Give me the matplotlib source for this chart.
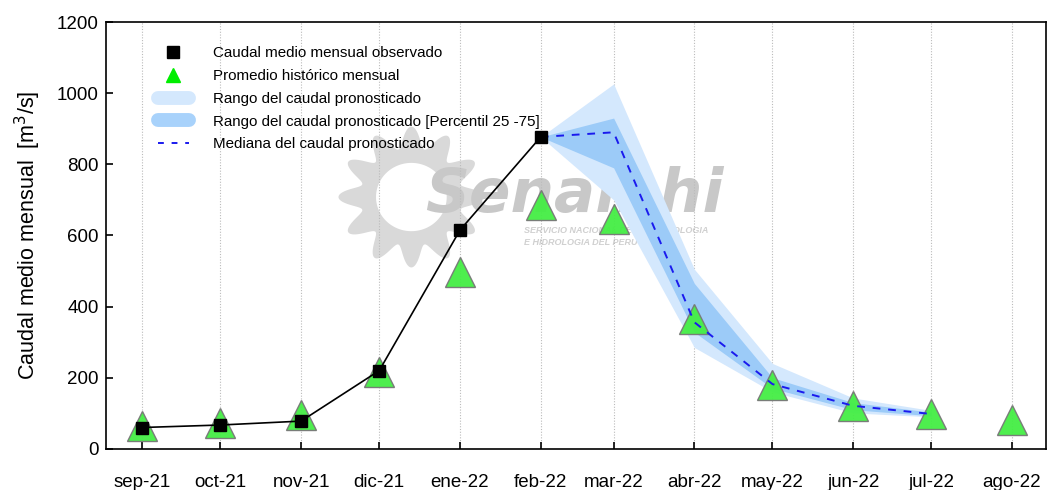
import numpy as np
import matplotlib
matplotlib.use('Agg')
import matplotlib.pyplot as plt
import matplotlib.dates as mdates
from matplotlib.patches import Polygon
from matplotlib.lines import Line2D
from datetime import datetime

plt.rcParams['font.family'] = ['Liberation Sans', 'DejaVu Sans']

# months shown on the axis
months = ['2021-09', '2021-10', '2021-11', '2021-12', '2022-01', '2022-02',
          '2022-03', '2022-04', '2022-05', '2022-06', '2022-07', '2022-08']
month_labels = ['sep-21', 'oct-21', 'nov-21', 'dic-21', 'ene-22', 'feb-22',
                'mar-22', 'abr-22', 'may-22', 'jun-22', 'jul-22', 'ago-22']

# observed monthly mean flow (sep-21 .. feb-22)
obs = [60, 67, 78, 220, 615, 877]
# historical monthly mean (sep .. ago)
hist = [65, 72, 95, 215, 497, 685, 645, 365, 180, 120, 97, 80]
# forecast (feb-22 .. jul-22)
fc_min = [877, 700, 285, 160, 101, 90]
fc_p25 = [877, 790, 328, 170, 110, 93]
fc_med = [877, 890, 356, 182, 121, 98]
fc_p75 = [877, 930, 465, 200, 130, 103]
fc_max = [877, 1026, 505, 240, 143, 108]

dates = [datetime.strptime(m + '-01', '%Y-%m-%d') for m in months]
x = mdates.date2num(dates)
x_obs = x[:len(obs)]
x_fc = x[5:5 + len(fc_med)]

fig = plt.figure(figsize=(10.48, 4.9), dpi=100)
ax = fig.add_axes([0.101, 0.084, 0.897, 0.871])

# watermark (Senamhi logo, approximate)
th = np.linspace(0, 2 * np.pi, 400)
rr = 0.14 + 0.025 * np.cos(12 * th)
cx, cy = 0.325, 0.59
sun = np.column_stack([cx + rr * np.cos(th) * 0.47, cy + rr * np.sin(th)])
ax.add_patch(Polygon(sun, closed=True, transform=ax.transAxes,
                     facecolor='#d9d9d9', edgecolor='none', zorder=0.5))
rr2 = 0.08
hole = np.column_stack([cx + rr2 * np.cos(th) * 0.47, cy + rr2 * np.sin(th)])
ax.add_patch(Polygon(hole, closed=True, transform=ax.transAxes,
                     facecolor='white', edgecolor='none', zorder=0.6))
ax.text(0.34, 0.555, 'Senamhi', transform=ax.transAxes, fontsize=44,
        fontweight='bold', style='italic', color='#c8c8c8', zorder=0.7,
        family='DejaVu Sans')
ax.text(0.445, 0.505, 'SERVICIO NACIONAL DE METEOROLOGIA', transform=ax.transAxes,
        fontsize=6.5, fontweight='bold', style='italic', color='#d0d0d0', zorder=0.7)
ax.text(0.445, 0.478, 'E HIDROLOGIA DEL PERU', transform=ax.transAxes,
        fontsize=6.5, fontweight='bold', style='italic', color='#d0d0d0', zorder=0.7)

# vertical grid
for xi in x:
    ax.axvline(xi, color='#bbbbbb', linestyle=(0, (1, 1.5)), linewidth=0.8, zorder=1)

light = '#d4e8fd'
dark = '#9ccbf8'
ax.fill_between(x_fc, fc_min, fc_max, color=light, linewidth=0, zorder=2)
ax.fill_between(x_fc, fc_p25, fc_p75, color=dark, linewidth=0, zorder=3)

ax.plot(x, hist, linestyle='none', marker='^', markersize=21,
        markerfacecolor='#44ee44', markeredgecolor='#777777', markeredgewidth=1,
        alpha=0.95, zorder=4)
ax.plot(x_fc, fc_med, color='#1a1aee', linestyle=(0, (4, 4)), linewidth=1.4, zorder=5)
ax.plot(x_obs, obs, color='black', linewidth=1.2, marker='s', markersize=9,
        markerfacecolor='black', markeredgecolor='black', zorder=6)

ax.set_ylim(0, 1200)
ax.set_yticks(np.arange(0, 1201, 200))
ax.set_xlim(mdates.date2num(datetime(2021, 8, 18)), mdates.date2num(datetime(2022, 8, 14)))
ax.set_xticks(x)
ax.set_xticklabels(month_labels)
ax.tick_params(axis='both', direction='in', labelsize=13.5, length=5, width=1.2)
ax.tick_params(axis='x', pad=18)
ax.tick_params(axis='y', pad=5)
for s in ax.spines.values():
    s.set_linewidth(1.2)
ax.set_ylabel('Caudal medio mensual  [m$^3$/s]', fontsize=15.5, labelpad=10)

# legend
h_obs = Line2D([], [], linestyle='none', marker='s', markersize=8, color='black')
h_hist = Line2D([], [], linestyle='none', marker='^', markersize=10,
                markerfacecolor='#00ee00', markeredgecolor='#00ee00')
h_light = Line2D([], [], color=light, linewidth=10, solid_capstyle='round')
h_dark = Line2D([], [], color='#a8d2fb', linewidth=10, solid_capstyle='round')
h_med = Line2D([], [], color='#1a1aee', linestyle=(0, (3, 4)), linewidth=1.4)
ax.legend([h_obs, h_hist, h_light, h_dark, h_med],
          ['Caudal medio mensual observado', 'Promedio histórico mensual',
           'Rango del caudal pronosticado',
           'Rango del caudal pronosticado [Percentil 25 -75]',
           'Mediana del caudal pronosticado'],
          loc='upper left', bbox_to_anchor=(0.055, 0.943), frameon=False,
          borderpad=0, borderaxespad=0,
          fontsize=10.9, handlelength=2.05, handletextpad=1.6, labelspacing=0.58)

fig.savefig('out.png', dpi=100)
